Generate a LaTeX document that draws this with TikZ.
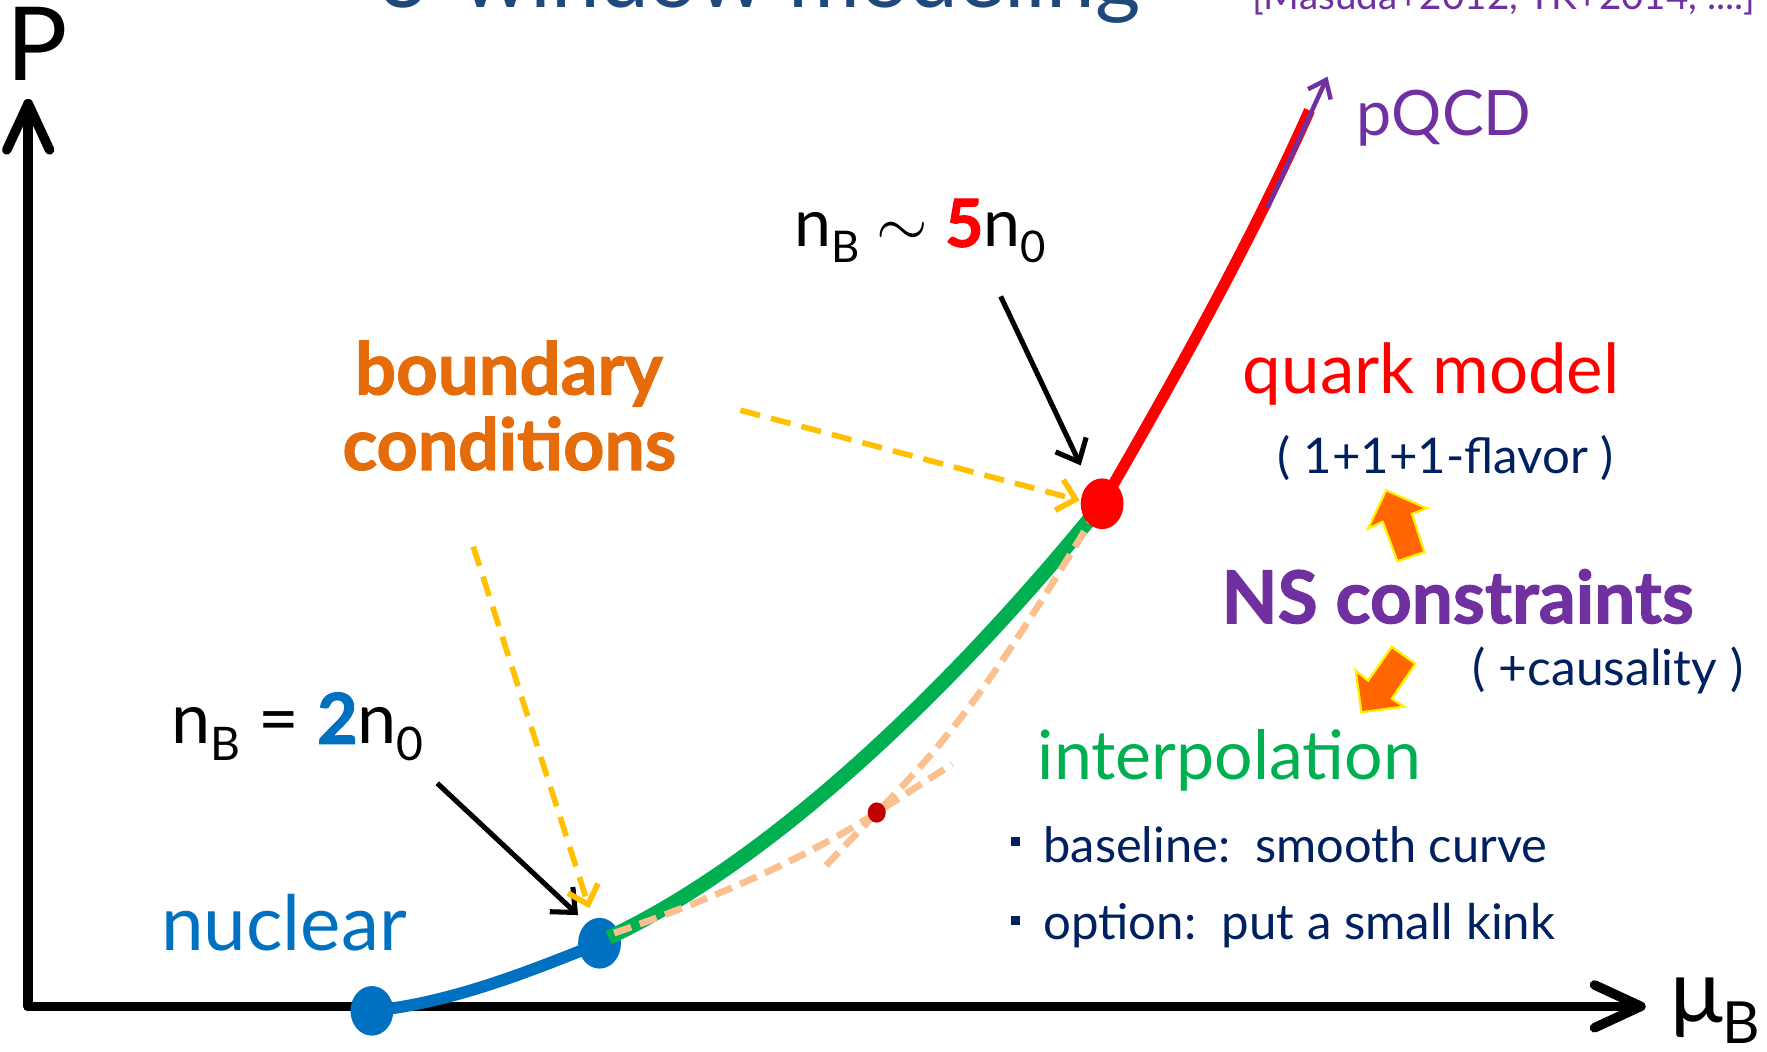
\documentclass[tikz,border=0pt]{standalone}
\usepackage{fontspec}
\setmainfont{Lato}
\newfontface\heavy{Lato Bold}[FakeBold=1.6]
\usepackage{graphicx}
\usetikzlibrary{arrows.meta,shapes.geometric}
\definecolor{ttl}{HTML}{1F497D}
\definecolor{purp}{HTML}{7030A0}
\definecolor{nblue}{HTML}{0070C0}
\definecolor{igreen}{HTML}{00B050}
\definecolor{qred}{HTML}{FF0000}
\definecolor{borange}{HTML}{E46C0A}
\definecolor{yel}{HTML}{FFC000}
\definecolor{navy}{HTML}{002060}
\definecolor{peach}{HTML}{FAC090}
\definecolor{dred}{HTML}{C00000}
\definecolor{bo}{HTML}{FF6600}
\newcommand{\fitto}[2]{\resizebox{#1mm}{!}{#2}}
\newcommand{\subs}[1]{\raisebox{-0.24em}{\scalebox{0.66}{#1}}}
\begin{document}
\begin{tikzpicture}[x=0.1mm,y=-0.1mm,
  txt/.style={inner sep=0pt,outer sep=0pt,anchor=base west},
  axisline/.style={line width=0.85mm,line cap=round,line join=round},
  blk/.style={line width=0.45mm,-{Straight Barb[length=1.7mm,width=3.0mm,line width=0.45mm]}},
  yarrow/.style={yel,line width=0.5mm,dash pattern=on 1.8mm off 1.0mm,-{Straight Barb[length=1.5mm,width=2.8mm,line width=0.5mm]}},
  peachline/.style={peach,line width=0.6mm,dash pattern=on 1.6mm off 0.8mm},
  dotnode/.style={ellipse,inner sep=0pt,minimum width=3.8mm,minimum height=4.4mm},
  blockarrow/.style={fill=bo,draw=yellow,line width=0.2mm,line join=miter}]
\useasboundingbox (0,0) rectangle (1568,933);
\begin{scope}
\clip (0,0) rectangle (1568,933);
% title (cut off at top, as in the source slide)
\node[txt,text=ttl] (title) at (336,7) {\fitto{67.6}{3-window modeling}};
\node[txt,text=purp] (cite) at (1111,8) {\fitto{44.7}{[Masuda+2012, TK+2014, ....]}};

% axes
\coordinate (O) at (25,893);
\coordinate (Ytip) at (25,92);
\coordinate (Xtip) at (1456,893);
\draw[axisline] (O) -- (Ytip);
\draw[axisline] (6,133) -- (Ytip) -- (44,133);
\draw[axisline] (O) -- (Xtip);
\draw[axisline] (1415,874) -- (Xtip) -- (1415,912);
\node[txt] (P) at (6,71) {\resizebox{!}{6.5mm}{P}};
\node[txt] (muB) at (1482,907) {\fitto{8.0}{μ\subs{B}}};

% key points
\coordinate (B0) at (330,897);
\coordinate (B1) at (532,837);
\coordinate (R1) at (978,447);
\coordinate (K) at (778,721);
\coordinate (Qtop) at (1162,98);

% red (quark) curve
\draw[qred,line width=1.0mm] (R1) .. controls (1040,340) and (1110,215) .. (Qtop);
% purple pQCD arrow
\coordinate (pq0) at (1125,184);
\coordinate (pq1) at (1178,68);
\draw[purp,line width=0.4mm,-{Straight Barb[length=1.4mm,width=2.2mm,line width=0.4mm]}] (pq0) -- (pq1);

% blue nuclear curve
\draw[nblue,line width=1.05mm] (B0) .. controls (400,890) and (470,862) .. (B1);
\node[dotnode,fill=nblue] (nd0) at (B0) {};
\node[dotnode,fill=nblue,minimum height=4.5mm] (nd1) at (B1) {};

% green interpolation
\draw[igreen,line width=1.3mm] (540,832) .. controls (685,764) and (845,611) .. (R1);

% peach kink curves
\coordinate (Lx) at (845,678);
\coordinate (Ux) at (733,768);
\draw[peachline] (545,828) .. controls (620,802) and (708,766) .. (K) -- (Lx);
\draw[peachline] (Ux) -- (K) .. controls (845,654) and (885,599) .. (968,462);
\node[ellipse,inner sep=0pt,minimum width=1.6mm,minimum height=1.8mm,fill=dred] (kd) at (K) {};

% red dot
\node[dotnode,fill=qred,minimum height=4.5mm] (rd) at (R1) {};

% labels
\node[txt,text=purp] (pqcd) at (1204,120) {\fitto{15.5}{pQCD}};
\node[txt] (n5) at (705,219) {\fitto{22.3}{n\subs{B} $\sim$ {\heavy\color{qred}5}n\subs{0}}};
\node[txt] (n2) at (152,660) {\fitto{22.4}{n\subs{B} = {\heavy\color{nblue}2}n\subs{0}}};
\node[txt,text=nblue] (nuc) at (143,843) {\fitto{21.8}{nuclear}};
\node[txt,text=borange] (bd1) at (315,350) {\fitto{27.3}{\heavy boundary}};
\node[txt,text=borange] (bd2) at (304,417) {\fitto{29.6}{\heavy conditions}};
\node[txt,text=qred] (qm) at (1103,349) {\fitto{33.4}{quark model}};
\node[txt,text=navy] (flav) at (1134,420) {\fitto{29.8}{( 1+1+1-flavor )}};
\node[txt,text=purp] (ns) at (1084,553) {\fitto{41.9}{\heavy NS constraints}};
\node[txt,text=navy] (caus) at (1307,608) {\fitto{24.0}{( +causality )}};
\node[txt,text=igreen] (interp) at (921,692) {\fitto{34.0}{interpolation}};
\node[txt,text=navy] (b1) at (926,765) {\fitto{44.7}{baseline:\ \ smooth curve}};
\node[txt,text=navy] (b2) at (926,834) {\fitto{45.4}{option:\ \ put a small kink}};
\fill[navy] (897,743) rectangle (905,751);
\fill[navy] (897,813) rectangle (905,821);

% arrows
\coordinate (a1s) at (388,695);
\coordinate (a1e) at (513,812);
\draw[blk] (a1s) -- (a1e);
\coordinate (a2s) at (888,263);
\coordinate (a2e) at (959,413);
\draw[blk] (a2s) -- (a2e);
\coordinate (y1s) at (420,485);
\coordinate (y1e) at (523,806);
\draw[yarrow] (y1s) -- (y1e);
\coordinate (y2s) at (657,364);
\coordinate (y2e) at (958,444);
\draw[yarrow] (y2s) -- (y2e);

% block arrows
\draw[blockarrow] (1230,435) -- (1214,469) -- (1227,463) -- (1240,498) -- (1264,490) -- (1253,456) -- (1266,451) -- cycle;
\draw[blockarrow] (1256,589) -- (1235,574) -- (1214,604) -- (1203,595) -- (1208,632) -- (1246,627) -- (1235,620) -- cycle;
\end{scope}
\end{tikzpicture}
\end{document}
